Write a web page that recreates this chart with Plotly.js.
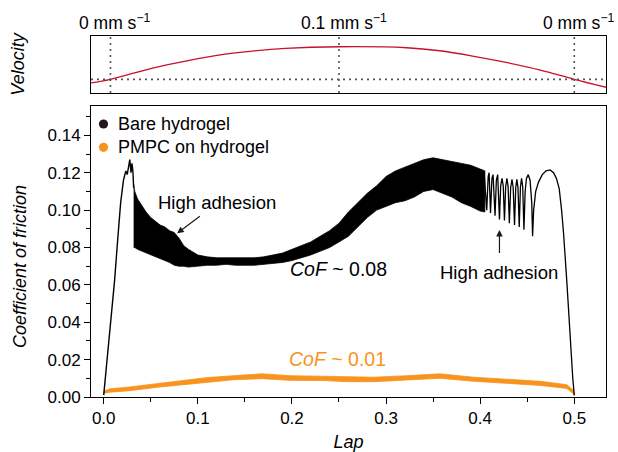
<!DOCTYPE html>
<html><head><meta charset="utf-8">
<script src="https://cdn.plot.ly/plotly-3.0.1.min.js"></script>
<style>html,body{margin:0;padding:0;background:#fff}#chart{width:618px;height:452px}</style>
</head><body><div id="chart"></div>
<script>
// ---- Velocity profile (top panel), mm/s ----
var velLap = [-0.014, 0.0072, 0.052, 0.087, 0.122, 0.158, 0.193, 0.25, 0.322, 0.357, 0.392, 0.429, 0.464, 0.5, 0.534];
var velVal = [-0.0113, 0, 0.0347, 0.0561, 0.0745, 0.0868, 0.095, 0.1, 0.097, 0.0877, 0.0715, 0.051, 0.0285, 0, -0.0245];
var velMarks = [0.0072, 0.25, 0.5];
var velMarkLabels = ['0 mm s<sup>\u22121</sup>', '0.1 mm s<sup>\u22121</sup>', '0 mm s<sup>\u22121</sup>'];

// ---- Bare hydrogel: initial rise ----
var riseLap = [0.0, 0.004, 0.008, 0.0115, 0.015, 0.018, 0.021, 0.0235, 0.025, 0.0265, 0.0277, 0.029, 0.030, 0.031, 0.0318];
var riseCoF = [0.001, 0.021, 0.043, 0.062, 0.085, 0.104, 0.116, 0.121, 0.119, 0.124, 0.127, 0.120, 0.125, 0.121, 0.112];

// ---- Bare hydrogel: dense stick-slip band (upper / lower envelope) ----
var bandLap = [0.0318, 0.033, 0.036, 0.040, 0.045, 0.050, 0.055, 0.060, 0.065, 0.070, 0.075, 0.080, 0.085, 0.090, 0.100, 0.110, 0.120, 0.130, 0.140, 0.150, 0.160, 0.170, 0.180, 0.190, 0.200, 0.210, 0.220, 0.230, 0.240, 0.250, 0.260, 0.270, 0.280, 0.290, 0.300, 0.310, 0.320, 0.330, 0.340, 0.350, 0.360, 0.370, 0.380, 0.390, 0.400, 0.405];
var bandUpper = [0.114, 0.110, 0.106, 0.103, 0.099, 0.096, 0.094, 0.092, 0.091, 0.089, 0.088, 0.085, 0.081, 0.079, 0.076, 0.075, 0.0745, 0.0745, 0.0745, 0.0745, 0.0745, 0.075, 0.076, 0.077, 0.079, 0.081, 0.083, 0.086, 0.089, 0.093, 0.099, 0.104, 0.109, 0.113, 0.118, 0.121, 0.123, 0.125, 0.127, 0.128, 0.127, 0.126, 0.125, 0.124, 0.122, 0.121];
var bandLower = [0.080, 0.080, 0.079, 0.078, 0.077, 0.076, 0.075, 0.074, 0.073, 0.072, 0.0705, 0.070, 0.070, 0.0695, 0.070, 0.0705, 0.0705, 0.071, 0.0705, 0.0705, 0.0705, 0.071, 0.0715, 0.072, 0.073, 0.0745, 0.076, 0.078, 0.080, 0.083, 0.086, 0.091, 0.096, 0.100, 0.102, 0.104, 0.105, 0.107, 0.110, 0.111, 0.109, 0.107, 0.104, 0.102, 0.0995, 0.099];

// ---- Bare hydrogel: discrete adhesion dips, last hump and drop ----
var tailLap = [0.404, 0.407, 0.4085, 0.4095, 0.411, 0.4125, 0.4137, 0.4158, 0.4172, 0.4186, 0.4205, 0.4218, 0.4232, 0.4245, 0.4258, 0.4271, 0.4284, 0.4297, 0.431, 0.4324, 0.4338, 0.4351, 0.4365, 0.4378, 0.439, 0.4402, 0.4415, 0.4428, 0.444, 0.4452, 0.4465, 0.4478, 0.4492, 0.4511, 0.453, 0.4548, 0.4557, 0.4568, 0.459, 0.462, 0.466, 0.470, 0.4743, 0.478, 0.481, 0.484, 0.4865, 0.4886, 0.4922, 0.4952, 0.4984, 0.500];
var tailCoF = [0.121, 0.100, 0.118, 0.120, 0.0985, 0.117, 0.119, 0.097, 0.116, 0.119, 0.095, 0.113, 0.117, 0.113, 0.0945, 0.1125, 0.117, 0.1125, 0.093, 0.112, 0.1165, 0.112, 0.092, 0.112, 0.1165, 0.112, 0.091, 0.1125, 0.117, 0.1125, 0.0895, 0.110, 0.117, 0.119, 0.116, 0.104, 0.086, 0.100, 0.110, 0.115, 0.119, 0.121, 0.1215, 0.120, 0.117, 0.1115, 0.100, 0.0876, 0.0608, 0.034, 0.010, 0.001];

// ---- PMPC on hydrogel: band (upper / lower envelope) ----
var pmpcLap = [0.0, 0.007, 0.028, 0.057, 0.085, 0.11, 0.138, 0.168, 0.198, 0.234, 0.258, 0.287, 0.322, 0.3575, 0.393, 0.428, 0.464, 0.492, 0.499, 0.5];
var pmpcUpper = [0.0032, 0.0044, 0.0054, 0.0071, 0.0088, 0.0104, 0.0114, 0.0124, 0.0114, 0.011, 0.0106, 0.0106, 0.0114, 0.0124, 0.0106, 0.0094, 0.0084, 0.0066, 0.0037, 0.0013];
var pmpcLower = [0.0020, 0.0026, 0.0034, 0.0052, 0.0066, 0.0080, 0.0092, 0.0098, 0.0089, 0.0088, 0.0082, 0.0082, 0.0092, 0.0100, 0.0084, 0.0072, 0.0062, 0.0046, 0.0018, 0.0006];

var seriesNames = ['Bare hydrogel', 'PMPC on hydrogel'];
var seriesColors = ['#231815', '#F7931E'];
var lapTicks = [0, 0.1, 0.2, 0.3, 0.4, 0.5];

var BLACK = '#000000', ORANGE = '#F7931E', RED = '#C8102E';
var FONT = 'Liberation Sans, Arial, Helvetica, sans-serif';

function polygon(xs, up, lo) {
  return { x: xs.concat(xs.slice().reverse()), y: up.concat(lo.slice().reverse()) };
}
var bareBand = polygon(bandLap, bandUpper, bandLower);
var pmpcBand = polygon(pmpcLap, pmpcUpper, pmpcLower);

var traces = [
  { x: pmpcBand.x, y: pmpcBand.y, xaxis: 'x', yaxis: 'y', mode: 'lines', fill: 'toself',
    fillcolor: ORANGE, line: { color: ORANGE, width: 0.8 }, showlegend: false, hoverinfo: 'skip' },
  { x: bareBand.x, y: bareBand.y, xaxis: 'x', yaxis: 'y', mode: 'lines', fill: 'toself',
    fillcolor: BLACK, line: { color: BLACK, width: 0.8 }, showlegend: false, hoverinfo: 'skip' },
  { x: riseLap, y: riseCoF, xaxis: 'x', yaxis: 'y', mode: 'lines',
    line: { color: BLACK, width: 1.4 }, showlegend: false },
  { x: tailLap, y: tailCoF, xaxis: 'x', yaxis: 'y', mode: 'lines',
    line: { color: BLACK, width: 1.3 }, showlegend: false },
  { x: velLap, y: velVal, xaxis: 'x2', yaxis: 'y2', mode: 'lines',
    line: { color: RED, width: 1.3, shape: 'spline' }, showlegend: false }
];

// geometry helpers (plot area: l=91, r=12, t=36, b=55 in 618x452)
var L = 91, T = 36, W = 618 - 91 - 12, H = 452 - 36 - 55;
function px2paperX(px) { return (px - L) / W; }
function px2paperY(py) { return (T + H - py) / H; }

var shapes = [];
velMarks.forEach(function (m) {
  shapes.push({ type: 'line', xref: 'x', yref: 'y2 domain', x0: m, x1: m, y0: 0, y1: 1,
    line: { color: '#555', width: 1.6, dash: '2px,4px' } });
});
shapes.push({ type: 'line', xref: 'x domain', yref: 'y2', x0: 0, x1: 1, y0: 0, y1: 0,
  line: { color: '#555', width: 1.6, dash: '2px,4px' } });
// legend dots
[124, 147.3].forEach(function (py, i) {
  shapes.push({ type: 'circle', xref: 'paper', yref: 'paper',
    xsizemode: 'pixel', ysizemode: 'pixel',
    xanchor: px2paperX(103.5), yanchor: px2paperY(py),
    x0: -4.6, x1: 4.6, y0: -4.6, y1: 4.6,
    fillcolor: seriesColors[i], line: { width: 0 } });
});

var annFont = { family: FONT, size: 18.5, color: '#000' };
var legFont = { family: FONT, size: 18, color: '#000' };
var cofFont = { family: FONT, size: 19.5, color: '#000' };
var annotations = [];
velMarks.forEach(function (m, i) {
  annotations.push({ xref: 'x', yref: 'paper', x: m, y: px2paperY(22), xshift: 5,
    text: velMarkLabels[i], showarrow: false, xanchor: 'center', yanchor: 'middle',
    font: { family: FONT, size: 17.5, color: '#000' } });
});
seriesNames.forEach(function (n, i) {
  annotations.push({ xref: 'paper', yref: 'paper', x: px2paperX(116), y: px2paperY(i === 0 ? 124 : 147.3),
    text: n, showarrow: false, xanchor: 'left', yanchor: 'middle', font: legFont });
});
annotations.push(
  // arrow head points at the curve; the label sits at the arrow's tail
  { xref: 'x', yref: 'y', x: 0.078, y: 0.0876, ax: 40.3, ay: -30.3, text: 'High adhesion',
    showarrow: true, arrowhead: 2, arrowsize: 1.1, arrowwidth: 1.2, arrowcolor: '#231815',
    standoff: 0, startstandoff: 2, font: annFont },
  { xref: 'x', yref: 'y', x: 0.4205, y: 0.0894, ax: 0, ay: 43, text: 'High adhesion',
    showarrow: true, arrowhead: 2, arrowsize: 1.1, arrowwidth: 1.2, arrowcolor: '#231815',
    standoff: 0, startstandoff: 8, font: annFont },
  { xref: 'x', yref: 'y', x: 0.2493, y: 0.0683, text: '<i>CoF</i> ~ 0.08', showarrow: false, font: cofFont },
  { xref: 'x', yref: 'y', x: 0.2487, y: 0.0202, text: '<i>CoF</i> ~ 0.01', showarrow: false,
    font: { family: FONT, size: 19.5, color: ORANGE } },
  { xref: 'paper', yref: 'paper', x: px2paperX(20), y: px2paperY(267), text: '<i>Coefficient of friction</i>',
    textangle: -90, showarrow: false, xanchor: 'center', yanchor: 'middle',
    font: { family: FONT, size: 18, color: '#000' } }
);

var tickFont = { family: FONT, size: 17, color: '#000' };
var layout = {
  width: 618, height: 452,
  margin: { l: L, r: 12, t: T, b: 55, pad: 0 },
  paper_bgcolor: '#fff', plot_bgcolor: '#fff',
  showlegend: false,
  font: { family: FONT, color: '#000' },
  xaxis: {
    domain: [0, 1], anchor: 'y', range: [-0.0135, 0.5337],
    tickmode: 'array', tickvals: lapTicks, ticktext: lapTicks.map(function (v) { return v.toFixed(1); }),
    ticks: 'outside', ticklen: 6, tickwidth: 1, tickcolor: '#000',
    minor: { dtick: 0.05, tick0: 0, ticks: 'outside', ticklen: 4, tickcolor: '#000', showgrid: false },
    showline: true, mirror: true, linecolor: '#000', linewidth: 1,
    showgrid: false, zeroline: false, tickfont: tickFont,
    title: { text: '<i>Lap</i>', font: { family: FONT, size: 18, color: '#000' }, standoff: 8 }
  },
  yaxis: {
    domain: [0, 0.806], anchor: 'x', range: [0, 0.1557],
    tick0: 0, dtick: 0.02, tickformat: '.2f',
    ticks: 'outside', ticklen: 6, tickwidth: 1, tickcolor: '#000',
    minor: { dtick: 0.01, tick0: 0, ticks: 'outside', ticklen: 4, tickcolor: '#000', showgrid: false },
    showline: true, mirror: true, linecolor: '#000', linewidth: 1,
    showgrid: false, zeroline: false, tickfont: tickFont
  },
  xaxis2: {
    domain: [0, 1], anchor: 'y2', matches: 'x', showticklabels: false, ticks: '',
    showline: true, mirror: true, linecolor: '#000', linewidth: 1.2, showgrid: false, zeroline: false
  },
  yaxis2: {
    domain: [0.842, 1], anchor: 'x2', range: [-0.042, 0.133], showticklabels: false, ticks: '',
    showline: true, mirror: true, linecolor: '#000', linewidth: 1.2, showgrid: false, zeroline: false,
    title: { text: '<i>Velocity</i>', font: { family: FONT, size: 18, color: '#000' }, standoff: 60 }
  },
  shapes: shapes,
  annotations: annotations
};

Plotly.newPlot('chart', traces, layout, { staticPlot: true, displayModeBar: false });
</script></body></html>
